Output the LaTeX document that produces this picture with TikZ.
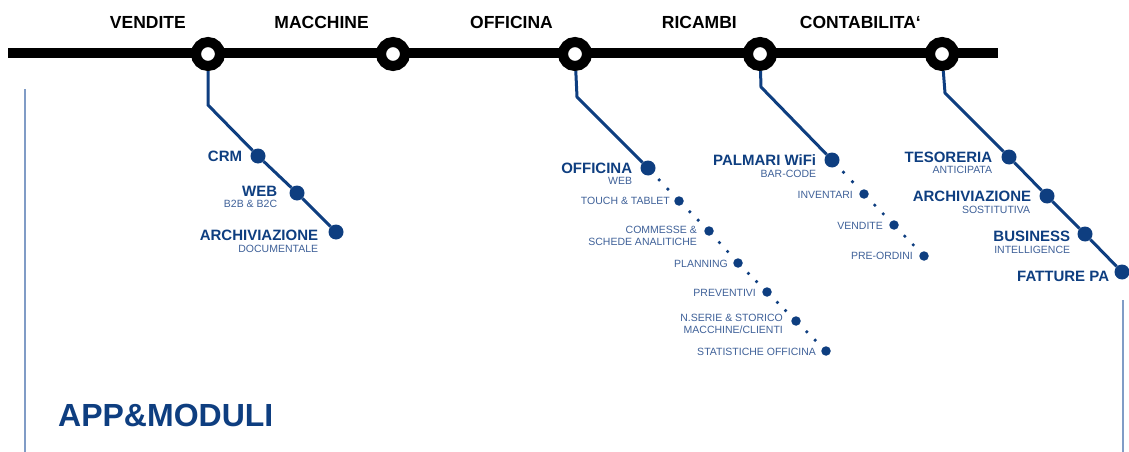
\documentclass[tikz,border=0pt]{standalone}
\usepackage{fontspec}
\setmainfont{Liberation Sans}
\usetikzlibrary{positioning,calc}

\definecolor{navy}{RGB}{14,62,128}
\definecolor{subblue}{RGB}{62,96,152}
\definecolor{frameblue}{RGB}{128,156,198}

\tikzset{
	station/.style={circle, draw=black, line width=10pt, fill=white, minimum size=24pt, inner sep=0pt},
	bigdot/.style={circle, fill=navy, minimum size=15pt, inner sep=0pt},
	smalldot/.style={circle, fill=navy, minimum size=9.5pt, inner sep=0pt},
	head/.style={font=\bfseries\fontsize{17.5}{18}\selectfont, inner sep=0pt},
	biglab/.style={text=navy, font=\bfseries\fontsize{15}{15}\selectfont, inner sep=0pt},
	sublab/.style={text=subblue, font=\fontsize{10.5}{11.5}\selectfont, inner sep=0pt, align=right},
	branch/.style={navy, line width=3pt},
	framel/.style={frameblue, line width=1.5pt}
}

\begin{document}
\begin{tikzpicture}[x=1pt, y=-1pt]
	\useasboundingbox (0,0) rectangle (1129,452);

	% main line and stations
	\coordinate (lstart) at (8,53);
	\coordinate (lend) at (998,53);
	\draw[line width=10pt] (lstart) -- (lend);
	\node[station] (vendite) at (208,54) {};
	\node[station] (macchine) at (393,54) {};
	\node[station] (officina) at (575,54) {};
	\node[station] (ricambi) at (760,54) {};
	\node[station] (contab) at (942,54) {};

	\node[head, above left=13pt and 10pt of vendite] {VENDITE};
	\node[head, above left=13pt and 12pt of macchine] {MACCHINE};
	\node[head, above left=13pt and 10pt of officina] {OFFICINA};
	\node[head, above left=13pt and 11pt of ricambi] {RICAMBI};
	\node[head, above left=13pt and 9pt of contab] {CONTABILITA‘};

	% frame
	\coordinate (fl1) at (25,89);
	\coordinate (fl2) at (25,452);
	\coordinate (fr1) at (1123,300);
	\coordinate (fr2) at (1123,452);
	\draw[framel] (fl1) -- (fl2);
	\draw[framel] (fr1) -- (fr2);

	% vendite
	\coordinate (k1) at (208,105);
	\node[bigdot] (crm) at (258,156) {};
	\node[bigdot] (web) at (297,193) {};
	\node[bigdot] (archdoc) at (336,232) {};
	\draw[branch] (vendite) -- (k1) -- (crm) -- (web) -- (archdoc);
	\node[biglab, left=8pt of crm] {CRM};
	\node[biglab, left=12pt of web, yshift=2pt] (webl) {WEB};
	\node[sublab, below left=4pt and 0pt of webl.south east] {B2B \& B2C};
	\node[biglab, left=10pt of archdoc, yshift=-3pt] (archdocl) {ARCHIVIAZIONE};
	\node[sublab, below left=4pt and 0pt of archdocl.south east] {DOCUMENTALE};

	% officina
	\coordinate (k2) at (577,97);
	\node[bigdot] (offdot) at (648,168) {};
	\node[smalldot] (o1) at (679,201) {};
	\node[smalldot] (o2) at (709,231) {};
	\node[smalldot] (o3) at (738,263) {};
	\node[smalldot] (o4) at (767,292) {};
	\node[smalldot] (o5) at (796,321) {};
	\node[smalldot] (o6) at (826,351) {};
	\draw[branch] (officina) -- (k2) -- (offdot);
	\foreach \a/\b in {offdot/o1, o1/o2, o2/o3, o3/o4, o4/o5, o5/o6}
		\foreach \t in {0.36, 0.64}
			\fill[navy] ($(\a)!\t!(\b)$) circle (1.8);
	\node[biglab, left=8pt of offdot] (offl) {OFFICINA};
	\node[sublab, below left=4pt and 0pt of offl.south east] {WEB};
	\node[sublab, left=4pt of o1] {TOUCH \& TABLET};
	\node[sublab, left=7pt of o2, yshift=-5pt] {COMMESSE \&\\SCHEDE ANALITICHE};
	\node[sublab, left=5pt of o3, yshift=-1pt] {PLANNING};
	\node[sublab, left=6pt of o4, yshift=-1pt] {PREVENTIVI};
	\node[sublab, left=8pt of o5, yshift=-3pt] {N.SERIE \& STORICO\\MACCHINE/CLIENTI};
	\node[sublab, left=5pt of o6, yshift=-1pt] {STATISTICHE OFFICINA};

	% ricambi
	\coordinate (k3) at (761,87);
	\node[bigdot] (palmari) at (832,160) {};
	\node[smalldot] (r1) at (864,194) {};
	\node[smalldot] (r2) at (894,225) {};
	\node[smalldot] (r3) at (924,256) {};
	\draw[branch] (ricambi) -- (k3) -- (palmari);
	\foreach \a/\b in {palmari/r1, r1/r2, r2/r3}
		\foreach \t in {0.36, 0.64}
			\fill[navy] ($(\a)!\t!(\b)$) circle (1.8);
	\node[biglab, left=8pt of palmari] (palmaril) {PALMARI WiFi};
	\node[sublab, below left=4pt and 0pt of palmaril.south east] {BAR-CODE};
	\node[sublab, left=6pt of r1, yshift=-1pt] {INVENTARI};
	\node[sublab, left=6pt of r2, yshift=-1pt] {VENDITE};
	\node[sublab, left=6pt of r3] {PRE-ORDINI};

	% contabilita
	\coordinate (k4) at (945,93);
	\node[bigdot] (tesor) at (1009,157) {};
	\node[bigdot] (archsos) at (1047,196) {};
	\node[bigdot] (busin) at (1085,234) {};
	\node[bigdot] (fatture) at (1122,272) {};
	\draw[branch] (contab) -- (k4) -- (tesor) -- (archsos) -- (busin) -- (fatture);
	\node[biglab, left=9pt of tesor] (tesorl) {TESORERIA};
	\node[sublab, below left=3pt and 0pt of tesorl.south east] {ANTICIPATA};
	\node[biglab, left=8pt of archsos] (archsosl) {ARCHIVIAZIONE};
	\node[sublab, below left=4pt and 1pt of archsosl.south east] {SOSTITUTIVA};
	\node[biglab, left=7pt of busin, yshift=-2pt] (businl) {BUSINESS};
	\node[sublab, below left=4pt and 0pt of businl.south east] {INTELLIGENCE};
	\node[biglab, left=5pt of fatture, yshift=-4pt] {FATTURE PA};

	\node[text=navy, font=\bfseries\fontsize{32}{32}\selectfont, inner sep=0pt, anchor=west] (app) at (58,415) {APP\&MODULI};
\end{tikzpicture}
\end{document}
